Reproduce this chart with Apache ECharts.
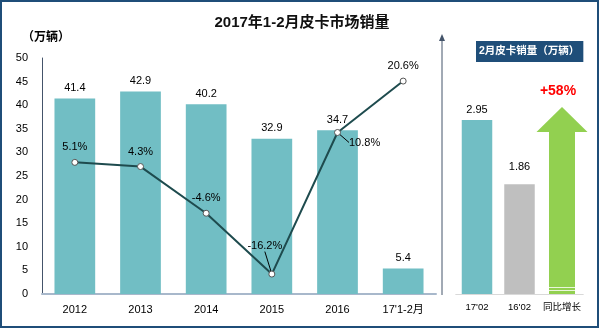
<!DOCTYPE html>
<html>
<head>
<meta charset="utf-8">
<script src="https://cdn.jsdelivr.net/npm/echarts@6/dist/echarts.min.js"></script>
<style>
html,body{margin:0;padding:0;background:#fff;}
#chart{width:600px;height:329px;}
</style>
</head>
<body>
<div id="chart"></div>
<script>
// ---- data ----
var titleText = '2017年1-2月皮卡市场销量';
var unitText = '（万辆）';
var yearCats = ['2012', '2013', '2014', '2015', '2016', "17'1-2月"];
var yearSales = [41.4, 42.9, 40.2, 32.9, 34.7, 5.4];
var yearGrowth = [5.1, 4.3, -4.6, -16.2, 10.8, 20.6];
var yTicks = [0, 5, 10, 15, 20, 25, 30, 35, 40, 45, 50];
var febBoxText = '2月皮卡销量（万辆）';
var febCats = ["17'02", "16'02", '同比增长'];
var febSales = [2.95, 1.86];
var febGrowthText = '+58%';
var arrowLevel = 3.17;

// ---- styles ----
var TEAL = '#71BEC4';
var GRAY = '#BFBFBF';
var GREEN = '#92D050';
var LINEC = '#1E4B4E';
var FONT = '"Liberation Sans", "Noto Sans CJK SC", sans-serif';

var chart = echarts.init(document.getElementById('chart'), null, {renderer: 'canvas'});

var lineData = yearGrowth.map(function (v, i) {
  var item = {value: v};
  if (i === 3 || i === 4) {
    item.labelLine = {show: true, lineStyle: {color: '#000', width: 1}, length2: 0};
  }
  if (i === 4) {
    item.label = {position: 'right', distance: 4};
  }
  return item;
});

var febBarData = febSales.map(function (v, i) {
  return {
    value: v,
    itemStyle: {color: i === 0 ? TEAL : GRAY},
    label: {distance: i === 0 ? 4 : 12}
  };
});

var option = {
  animation: false,
  backgroundColor: '#fff',
  textStyle: {fontFamily: FONT},
  title: [
    {
      text: titleText, left: 297, top: 10, textAlign: 'center',
      textStyle: {fontSize: 15, fontWeight: 'bold', color: '#111', fontFamily: FONT}
    },
    {
      text: febBoxText, left: 476, top: 41,
      backgroundColor: '#1F4E79', padding: [4, 4, 4, 3],
      textStyle: {fontSize: 10.5, fontWeight: 'bold', color: '#fff', fontFamily: FONT, lineHeight: 13}
    }
  ],
  grid: [
    {left: 42, top: 58, width: 394, height: 236},
    {left: 455.75, top: 58, width: 127.5, height: 236}
  ],
  xAxis: [
    {
      gridIndex: 0, type: 'category', data: yearCats,
      axisLine: {show: true, lineStyle: {color: '#A8B8CB', width: 2}},
      axisTick: {show: false},
      axisLabel: {color: '#000', fontSize: 11, margin: 10, interval: 0, fontFamily: FONT}
    },
    {
      gridIndex: 1, type: 'category', data: febCats,
      axisLine: {show: true, lineStyle: {color: '#D9D9D9', width: 1}},
      axisTick: {show: false},
      axisLabel: {color: '#000', fontSize: 9.5, margin: 9, interval: 0, hideOverlap: false, fontFamily: FONT}
    }
  ],
  yAxis: [
    {
      gridIndex: 0, type: 'value', min: yTicks[0], max: yTicks[yTicks.length - 1], interval: 5,
      name: unitText, nameLocation: 'end', nameGap: 14,
      nameTextStyle: {color: '#000', fontSize: 12, fontWeight: 'bold', padding: [0, 0, 0, 8], fontFamily: FONT},
      axisLine: {show: true, lineStyle: {color: '#44546A', width: 1}},
      axisTick: {show: false},
      splitLine: {show: false},
      axisLabel: {color: '#000', fontSize: 11, margin: 14, fontFamily: FONT}
    },
    {
      gridIndex: 0, type: 'value', min: -20, max: 25, show: false, splitLine: {show: false}
    },
    {
      gridIndex: 1, type: 'value', min: 0, max: 4, show: false, splitLine: {show: false}
    }
  ],
  series: [
    {
      type: 'bar', xAxisIndex: 0, yAxisIndex: 0, data: yearSales,
      barCategoryGap: '38%',
      itemStyle: {color: TEAL},
      label: {show: true, position: 'top', distance: 5, color: '#000', fontSize: 11, fontFamily: FONT}
    },
    {
      type: 'line', xAxisIndex: 0, yAxisIndex: 1, data: lineData,
      symbol: 'circle', symbolSize: 6,
      lineStyle: {color: LINEC, width: 2},
      itemStyle: {color: '#fff', borderColor: '#555', borderWidth: 1},
      z: 5,
      label: {
        show: true, position: 'top', distance: 6, color: '#000', fontSize: 11, fontFamily: FONT,
        formatter: function (p) { return p.value + '%'; }
      },
      labelLayout: function (p) {
        if (p.dataIndex === 3) return {dx: -7, dy: -13};
        if (p.dataIndex === 4) return {dx: 4, dy: 10};
        return {};
      }
    },
    {
      type: 'bar', xAxisIndex: 1, yAxisIndex: 2, data: febBarData,
      barWidth: 30.5,
      label: {show: true, position: 'top', color: '#000', fontSize: 11, fontFamily: FONT}
    },
    {
      type: 'custom', xAxisIndex: 1, yAxisIndex: 2,
      data: [[febCats.length - 1, arrowLevel]],
      encode: {x: 0, y: 1},
      renderItem: function (params, api) {
        var base = api.coord([api.value(0), 0]);
        var top = api.coord([api.value(0), api.value(1)]);
        var cx = base[0], by = base[1], ty = top[1];
        var hw = 25.5, sw = 13, hh = 25;
        return {
          type: 'group',
          children: [
            {
              type: 'polygon',
              shape: {points: [
                [cx, ty], [cx + hw, ty + hh], [cx + sw, ty + hh], [cx + sw, by],
                [cx - sw, by], [cx - sw, ty + hh], [cx - hw, ty + hh]
              ]},
              style: {fill: GREEN}
            },
            {type: 'line', shape: {x1: cx - sw, y1: by - 6.5, x2: cx + sw, y2: by - 6.5}, style: {stroke: '#fff', lineWidth: 1, opacity: 0.8}},
            {type: 'line', shape: {x1: cx - sw, y1: by - 3.5, x2: cx + sw, y2: by - 3.5}, style: {stroke: '#fff', lineWidth: 1, opacity: 0.8}},
            {
              type: 'text',
              style: {
                text: febGrowthText, x: cx - 4, y: ty - 16, align: 'center', verticalAlign: 'middle',
                fill: '#FF0000', fontSize: 14, fontWeight: 'bold', fontFamily: FONT
              }
            }
          ]
        };
      }
    }
  ],
  graphic: [
    {
      type: 'rect', silent: true, z: 100,
      shape: {x: 1, y: 1, width: 597, height: 326},
      style: {fill: 'none', stroke: '#1F4E79', lineWidth: 2}
    },
    {
      type: 'line', silent: true,
      shape: {x1: 442, y1: 295, x2: 442, y2: 39},
      style: {stroke: '#44546A', lineWidth: 1}
    },
    {
      type: 'polygon', silent: true,
      shape: {points: [[442, 34], [445, 41], [439, 41]]},
      style: {fill: '#44546A'}
    }
  ]
};
chart.setOption(option);
</script>
</body>
</html>
